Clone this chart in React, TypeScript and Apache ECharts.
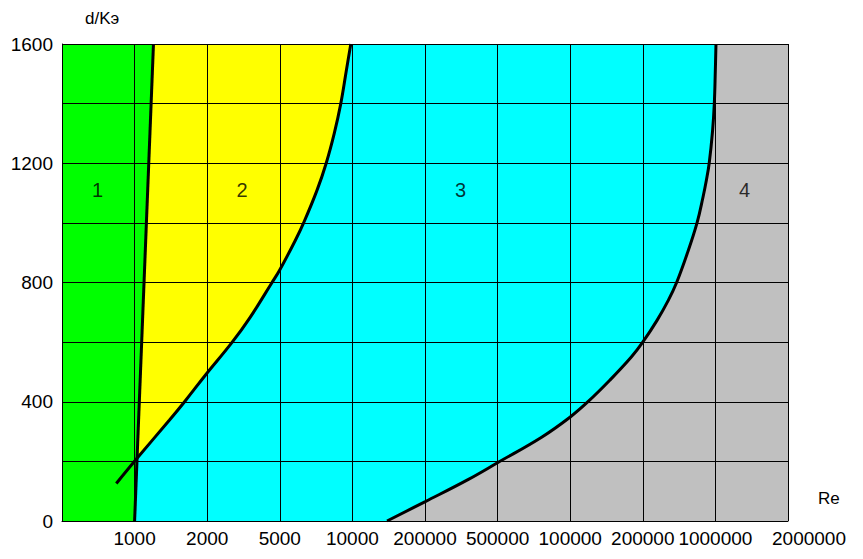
import React, { useEffect, useRef } from "react";
import * as echarts from "echarts";

// Tick labels of the (non-uniform) Re axis, one per grid column edge
const xTickLabels = ["", "1000", "2000", "5000", "10000", "200000", "500000", "100000", "200000", "1000000", "2000000"];
const yMin = 0;
const yMax = 1600;

// Boundary 1|2 (straight line)
const line1X = [1.0, 1.26];
const line1Y = [0, 1600];

// Boundary 2|3
const curve2X = [0.748, 1.025, 1.478, 1.691, 1.974, 2.342, 2.594, 2.893, 2.997, 3.213, 3.328, 3.512, 3.640, 3.751, 3.840, 3.916, 3.978];
const curve2Y = [126, 208, 338, 401, 489, 599, 684, 800, 841, 941, 1000, 1109, 1201, 1301, 1400, 1510, 1600];

// Boundary 3|4
const curve3X = [4.477, 5.004, 5.579, 6.010, 6.612, 7.001, 7.249, 7.545, 7.842, 7.997, 8.196, 8.351, 8.466, 8.612, 8.747, 8.829, 8.875, 8.915, 8.961, 8.985, 8.999, 9.008];
const curve3Y = [0, 65, 137, 197, 282, 349, 401, 472, 550, 599, 673, 740, 800, 897, 1000, 1086, 1142, 1201, 1309, 1400, 1511, 1600];

// Zone labels
const zoneNames = ["1", "2", "3", "4"];
const zoneX = [0.49, 2.48, 5.49, 9.4];
const zoneY = [1110, 1110, 1110, 1110];

const FONT = "'Liberation Sans', Arial, Helvetica, sans-serif";

export default function App() {
  const ref = useRef<HTMLDivElement>(null);

  useEffect(() => {
    if (!ref.current) return;
    const chart = echarts.init(ref.current, null, { renderer: "svg" });

    const xMax = xTickLabels.length - 1;
    const polygons = [
      { color: "#C0C0C0", xs: [0, xMax, xMax, 0], ys: [yMin, yMin, yMax, yMax] },
      { color: "#00FFFF", xs: [0, ...curve3X, 0], ys: [yMin, ...curve3Y, yMax] },
      { color: "#FFFF00", xs: [...curve2X.slice(1), 0, 0], ys: [...curve2Y.slice(1), yMax, curve2Y[1]] },
      { color: "#00FF00", xs: [0, line1X[0], line1X[1], 0], ys: [yMin, line1Y[0], line1Y[1], yMax] },
    ];

    const zip = (xs: number[], ys: number[]) => xs.map((x, i) => [x, ys[i]]);
    const lineStyle = { color: "#000", width: 3 };

    chart.setOption({
      animation: false,
      textStyle: { fontFamily: FONT },
      grid: { left: 62, right: 75, top: 44, bottom: 38, containLabel: false },
      xAxis: {
        type: "value",
        min: 0,
        max: xMax,
        interval: 1,
        z: 3,
        axisLine: { show: true, lineStyle: { color: "#000", width: 1 } },
        axisTick: { show: false },
        splitLine: { show: true, lineStyle: { color: "#000", width: 1 } },
        axisLabel: {
          margin: 8,
          fontSize: 19,
          color: "#000",
          fontFamily: FONT,
          formatter: (v: number) => {
            const i = Math.round(v);
            const t = xTickLabels[i] ?? "";
            return i === xMax ? `{last|${t}}` : t;
          },
          rich: { last: { fontSize: 19, color: "#000", fontFamily: FONT, padding: [0, 0, 0, 42] } },
        },
      },
      yAxis: {
        type: "value",
        min: yMin,
        max: yMax,
        interval: 200,
        z: 3,
        axisLine: { show: true, lineStyle: { color: "#000", width: 1 } },
        axisTick: { show: false },
        splitLine: { show: true, lineStyle: { color: "#000", width: 1 } },
        axisLabel: {
          margin: 9,
          fontSize: 19,
          color: "#000",
          fontFamily: FONT,
          formatter: (v: number) => (v % 400 === 0 ? String(v) : ""),
        },
      },
      graphic: [
        { type: "text", left: 85, top: 10, style: { text: "d/Kэ", fontSize: 17, fill: "#000", fontFamily: FONT } },
        { type: "text", left: 818, top: 490, style: { text: "Re", fontSize: 17, fill: "#000", fontFamily: FONT } },
      ],
      series: [
        {
          type: "custom",
          z: 1,
          silent: true,
          clip: true,
          data: polygons.map((_, i) => i),
          renderItem: (params: any, api: any) => {
            const p = polygons[params.dataIndex];
            const pts = p.xs.map((x, i) => api.coord([x, p.ys[i]]));
            return { type: "polygon", shape: { points: pts }, style: { fill: p.color, stroke: null } };
          },
        },
        { type: "line", z: 5, data: zip(line1X, line1Y), symbol: "none", lineStyle, silent: true },
        { type: "line", z: 5, data: zip(curve2X, curve2Y), symbol: "none", smooth: 0.4, lineStyle, silent: true },
        { type: "line", z: 5, data: zip(curve3X, curve3Y), symbol: "none", smooth: 0.4, lineStyle, silent: true },
        {
          type: "scatter",
          z: 6,
          symbolSize: 0,
          silent: true,
          data: zoneNames.map((n, i) => ({ name: n, value: [zoneX[i], zoneY[i]] })),
          label: {
            show: true,
            position: "inside",
            formatter: (p: any) => p.name,
            fontSize: 20,
            color: "#000",
            fontFamily: FONT,
          },
        },
      ],
    });

    return () => chart.dispose();
  }, []);

  return (
    <div
      ref={ref}
      style={{ position: "absolute", left: 0, top: 0, width: 863, height: 559, background: "#fff" }}
    />
  );
}
